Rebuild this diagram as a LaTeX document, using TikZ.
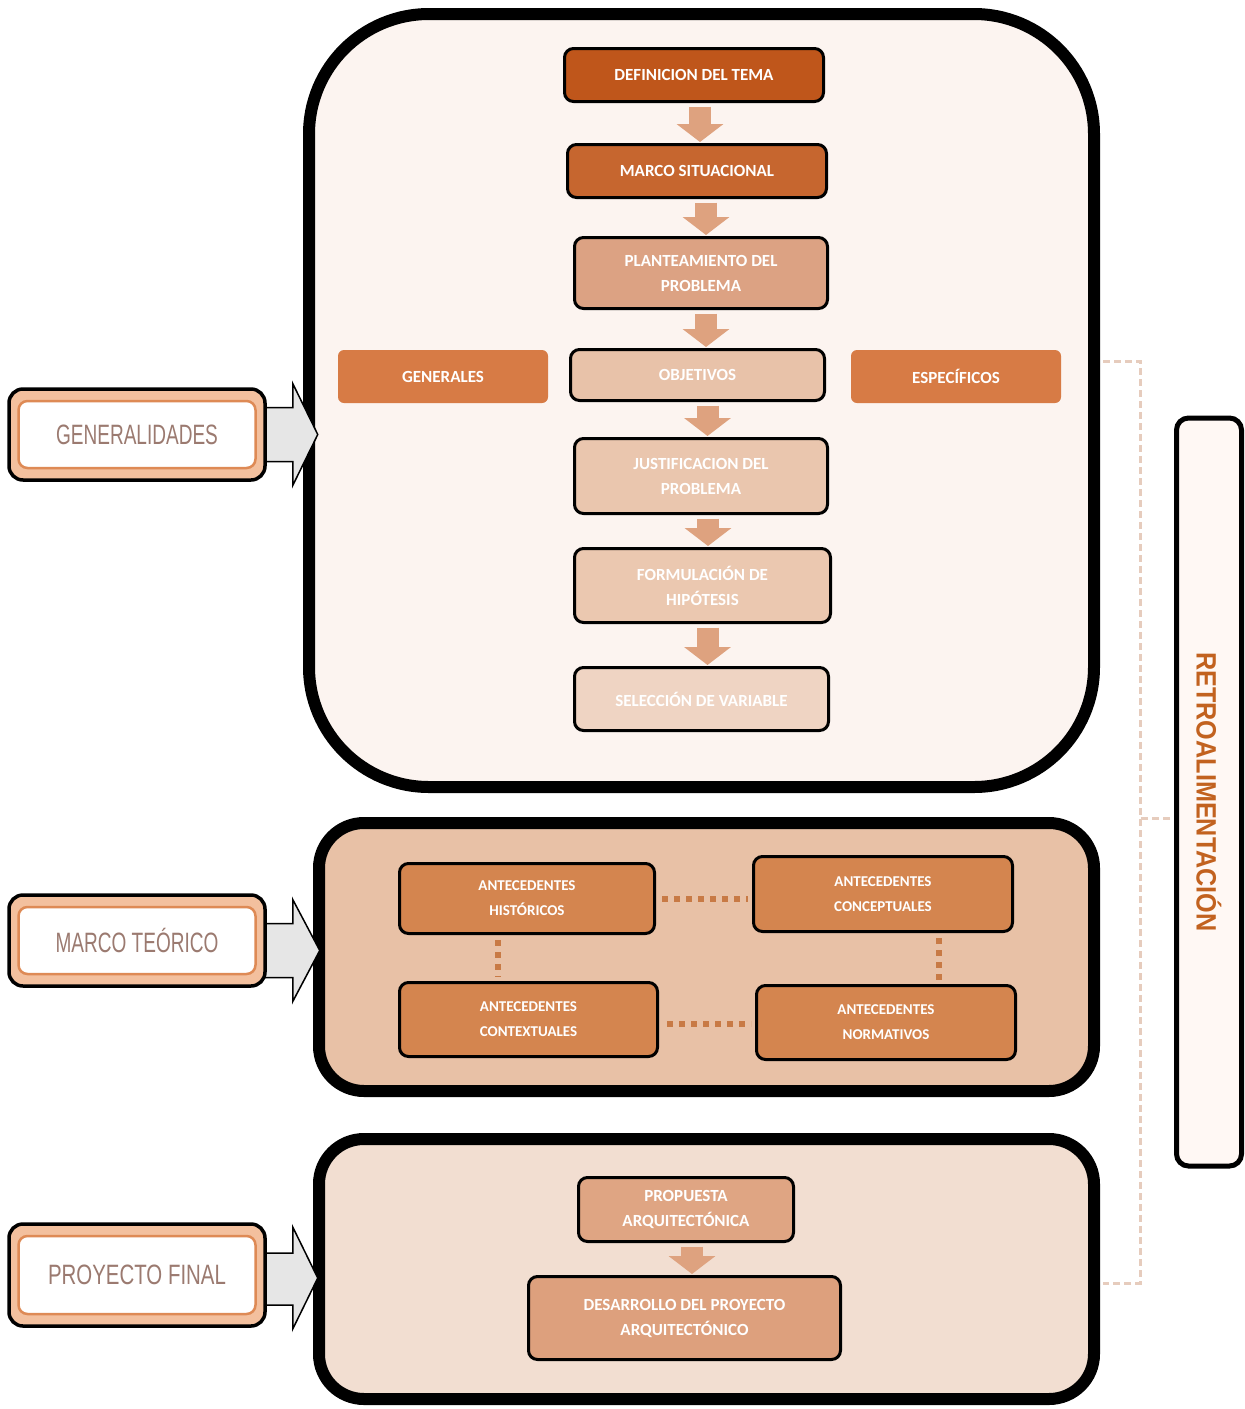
\documentclass[tikz,border=0pt]{standalone}
\usepackage{fontspec}
\setmainfont{Carlito}
\newfontfamily\labfont[FakeStretch=0.68]{Liberation Sans}
\newfontfamily\labfontb[FakeStretch=0.73]{Liberation Sans}
\newfontfamily\retfont[FakeStretch=0.9]{Liberation Sans}
\usetikzlibrary{arrows.meta,calc}
\pgfdeclarelayer{back}
\pgfdeclarelayer{mid}
\pgfsetlayers{back,mid,main}
\definecolor{bonef}{HTML}{FCF4F0}
\definecolor{btwof}{HTML}{E8C1A6}
\definecolor{bthreef}{HTML}{F2DED1}
\definecolor{cdef}{HTML}{BF561B}
\definecolor{cmsit}{HTML}{C6662F}
\definecolor{cplan}{HTML}{DCA283}
\definecolor{cobj}{HTML}{E8C2A9}
\definecolor{cside}{HTML}{D77B45}
\definecolor{cjust}{HTML}{EAC6AE}
\definecolor{cform}{HTML}{EBC8B0}
\definecolor{csel}{HTML}{EFD4C3}
\definecolor{cante}{HTML}{D4854F}
\definecolor{cprop}{HTML}{DFA583}
\definecolor{cdesa}{HTML}{DDA07D}
\definecolor{carrow}{HTML}{DEA27F}
\definecolor{cdot}{HTML}{C87A45}
\definecolor{cdash}{HTML}{E6CCBD}
\definecolor{labout}{HTML}{F3C09E}
\definecolor{labin}{HTML}{DE8A55}
\definecolor{labtext}{HTML}{9B7A70}
\definecolor{rettext}{HTML}{C2621F}
\definecolor{retfill}{HTML}{FFF8F4}
\definecolor{grayarr}{HTML}{E6E6E6}
\begin{document}
\begin{tikzpicture}[x=1pt,y=-1pt,
  bigbox/.style={draw=black, line width=12pt, rounded corners=#1},
  stepbox/.style={draw=black, line width=3pt, rounded corners=9pt, align=center,
    text=white, font=\fontsize{17}{25}\selectfont\bfseries, inner sep=0pt},
  sidebox/.style={rounded corners=6pt, align=center, fill=cside,
    text=white, font=\fontsize{17}{25}\selectfont\bfseries, inner sep=0pt,
    minimum width=210pt, minimum height=53pt},
  antebox/.style={stepbox, fill=cante, font=\fontsize{15}{25}\selectfont\bfseries},
  flow/.style={draw=carrow, line width=22pt, -{Triangle[width=46pt,length=18pt]}},
  dotline/.style={draw=cdot, line width=6pt, dash pattern=on 6pt off 6pt},
  bracket/.style={draw=cdash, line width=3pt, dash pattern=on 7pt off 4pt},
  labouter/.style={draw=black, line width=3.5pt, fill=labout, rounded corners=14pt,
    minimum width=256pt},
  labinner/.style={draw=labin, line width=2.5pt, fill=white, rounded corners=9pt,
    minimum width=237pt, text=labtext, inner sep=0pt},
  garrow/.style={draw=black, line width=1.5pt, fill=grayarr, line join=miter}
]
\useasboundingbox (0,0) rectangle (1245,1409);

% big frames
\begin{pgfonlayer}{back}
\node[bigbox=120pt, fill=bonef, minimum width=785pt, minimum height=773pt] (g1) at (701.5,400.5) {};
\node[bigbox=45pt, fill=btwof, minimum width=775pt, minimum height=268pt] (g2) at (706.5,957) {};
\node[bigbox=45pt, fill=bthreef, minimum width=775pt, minimum height=260pt] (g3) at (706.5,1269) {};
\end{pgfonlayer}

% feedback bracket
\coordinate (bt) at (1103,361);
\coordinate (bb) at (1103,1283);
\coordinate (bm) at (1170,818);
\draw[bracket] (bt) -- ++(37,0) |- (bb);
\draw[bracket] (bm) -- ++(-30,0);

% feedback box
\node[draw=black, line width=5pt, rounded corners=12pt, fill=retfill, rotate=-90,
  minimum width=748pt, minimum height=65pt, text=rettext,
  font=\retfont\fontsize{28}{30}\selectfont\bfseries] (retro) at (1209,792) {RETROALIMENTACIÓN};

% main chain
\node[stepbox, fill=cdef, minimum width=259pt, minimum height=53pt] (def) at (694,75) {DEFINICION DEL TEMA};
\node[stepbox, fill=cmsit, minimum width=259pt, minimum height=53pt] (msit) at (697,171) {MARCO SITUACIONAL};
\node[stepbox, fill=cplan, minimum width=253pt, minimum height=71pt] (plan) at (701,273) {PLANTEAMIENTO DEL\\PROBLEMA};
\node[stepbox, fill=cobj, minimum width=254pt, minimum height=51pt] (obj) at (697.5,375) {OBJETIVOS};
\node[sidebox] (gen) at (443,376.5) {GENERALES};
\node[sidebox] (esp) at (956,376.5) {ESPECÍFICOS};
\node[stepbox, fill=cjust, minimum width=253pt, minimum height=75pt] (just) at (701,476) {JUSTIFICACION DEL\\PROBLEMA};
\node[stepbox, fill=cform, minimum width=256pt, minimum height=74pt] (form) at (702.5,585.5) {FORMULACIÓN DE\\HIPÓTESIS};
\node[stepbox, fill=csel, minimum width=254pt, minimum height=63pt] (sel) at (701.5,699) {SELECCIÓN DE VARIABLE};

\draw[flow] ($(def.south)+(6,3.5)$) -- ($(def.south |- msit.north)+(6,-1)$);
\draw[flow] ($(msit.south)+(9,3.5)$) -- ($(msit.south |- plan.north)+(9,-1)$);
\draw[flow] ($(plan.south)+(5,3.5)$) -- ($(plan.south |- obj.north)+(5,-1)$);
\draw[flow] ($(obj.south)+(10,3.5)$) -- ($(obj.south |- just.north)+(10,-1)$);
\draw[flow] ($(just.south)+(7,3.5)$) -- ($(just.south |- form.north)+(7,-1)$);
\draw[flow] ($(form.south)+(5,3.5)$) -- ($(form.south |- sel.north)+(5,-1)$);

% marco teorico
\node[antebox, minimum width=255pt, minimum height=70pt] (hist) at (527,898.5) {ANTECEDENTES\\HISTÓRICOS};
\node[antebox, minimum width=259pt, minimum height=75pt] (conc) at (883,894) {ANTECEDENTES\\CONCEPTUALES};
\node[antebox, minimum width=258pt, minimum height=74pt] (ctx) at (528.5,1019.5) {ANTECEDENTES\\CONTEXTUALES};
\node[antebox, minimum width=259pt, minimum height=74pt] (norm) at (886,1022.5) {ANTECEDENTES\\NORMATIVOS};

\draw[dotline] ($(hist.east)+(6,0)$) -- ($(hist.east -| conc.west)+(-4,0)$);
\draw[dotline] ($(ctx.east)+(8,4)$) -- ($(ctx.east -| norm.west)+(-4,4)$);
\draw[dotline] ($(hist.south)+(-29,5)$) -- ($(hist.south |- ctx.north)+(-29,-4)$);
\draw[dotline] ($(conc.south)+(56,5)$) -- ($(conc.south |- norm.north)+(56,-4)$);

% proyecto final
\node[stepbox, fill=cprop, minimum width=215pt, minimum height=64pt] (prop) at (686,1209.5) {PROPUESTA\\ARQUITECTÓNICA};
\node[stepbox, fill=cdesa, minimum width=312pt, minimum height=83pt] (desa) at (684.5,1318) {DESARROLLO DEL PROYECTO\\ARQUITECTÓNICO};
\draw[flow] ($(prop.south)+(6,3.5)$) -- ($(prop.south |- desa.north)+(6,-1)$);

% left labels
\node[labouter, minimum height=91pt] (lgen) at (137,434.5) {};
\node[labinner, minimum height=67pt, font=\labfont\fontsize{28}{30}\selectfont] (lgent) at (lgen.center) {GENERALIDADES};
\node[labouter, minimum height=91pt] (lmar) at (137,940.5) {};
\node[labinner, minimum height=67pt, font=\labfont\fontsize{28}{30}\selectfont] (lmart) at (lmar.center) {MARCO TEÓRICO};
\node[labouter, minimum height=102pt] (lpro) at (137,1275) {};
\node[labinner, minimum height=78pt, font=\labfontb\fontsize{28}{30}\selectfont] (lprot) at (lpro.center) {PROYECTO FINAL};

\begin{pgfonlayer}{mid}
\draw[garrow] ($(lgen.east)+(-2,-27)$) -- ++(28,0) -- ++(0,-24) -- ++(25,51) -- ++(-25,51) -- ++(0,-24) -- ++(-28,0) -- cycle;
\draw[garrow] ($(lmar.east)+(-2,-17)$) -- ++(28,0) -- ++(0,-24) -- ++(27,51) -- ++(-27,51) -- ++(0,-24) -- ++(-28,0) -- cycle;
\draw[garrow] ($(lpro.east)+(-2,-22)$) -- ++(28,0) -- ++(0,-26) -- ++(25,51) -- ++(-25,51) -- ++(0,-24) -- ++(-28,0) -- cycle;
\end{pgfonlayer}
\end{tikzpicture}
\end{document}
